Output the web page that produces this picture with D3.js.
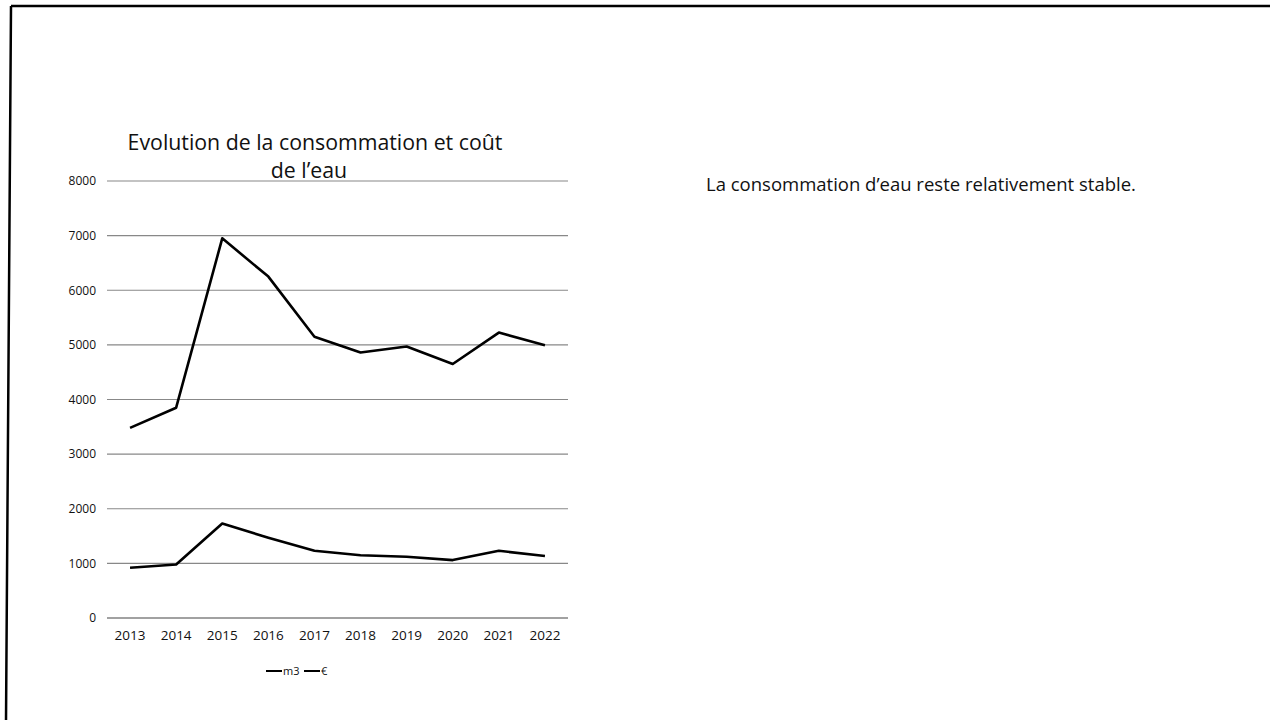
<!DOCTYPE html>
<html><head><meta charset="utf-8">
<script src="https://cdn.jsdelivr.net/npm/d3@7"></script>
<style>body{margin:0;background:#fff}svg{display:block}text{font-family:"Open Sans","Noto Sans",sans-serif;fill:#111}</style>
</head><body>
<svg id="c" width="1270" height="720"></svg>
<script>
const years = ["2013","2014","2015","2016","2017","2018","2019","2020","2021","2022"];
const m3 = [3480,3850,6950,6250,5150,4860,4970,4650,5225,4995];
const euro = [920,980,1730,1470,1230,1150,1120,1060,1230,1135];
const yTicks = [0,1000,2000,3000,4000,5000,6000,7000,8000];
const seriesNames = ["m3","€"];
const titleLines = ["Evolution de la consommation et coût","de l’eau"];
const note = "La consommation d’eau reste relativement stable.";

const svg = d3.select("#c");
svg.append("path").attr("d","M11,6 L1270,6 M11,6 L6,720").attr("stroke","#000").attr("stroke-width",2.5).attr("fill","none");

const x = d3.scaleBand().domain(years).range([107,568]);
const y = d3.scaleLinear().domain([0,8000]).range([618,181]);

const grid = svg.append("g");
grid.selectAll("line").data(yTicks).join("line")
  .attr("x1",107).attr("x2",568).attr("y1",d=>y(d)).attr("y2",d=>y(d))
  .attr("stroke",d=>d===0?"#444":"#888").attr("stroke-width",1.2);

const yAxis = svg.append("g").attr("transform","translate(100,0)")
  .call(d3.axisLeft(y).tickValues(yTicks).tickSize(0).tickPadding(4).tickFormat(d3.format("d")));
yAxis.select(".domain").remove();
yAxis.selectAll("text").attr("font-size",12).style("fill","#111");

const xAxis = svg.append("g").attr("transform","translate(0,618)")
  .call(d3.axisBottom(x).tickSize(0).tickPadding(12));
xAxis.select(".domain").remove();
xAxis.selectAll("text").attr("font-size",13.5).style("fill","#111");

const line = d3.line().x((d,i)=>x(years[i])+x.bandwidth()/2).y(d=>y(d));
[m3,euro].forEach(s=>{
  svg.append("path").datum(s).attr("d",line).attr("fill","none").attr("stroke","#000")
    .attr("stroke-width",2.6).attr("stroke-linejoin","round");
});

svg.append("text").attr("x",315).attr("y",150).attr("text-anchor","middle").attr("font-size",21.3).text(titleLines[0]);
svg.append("text").attr("x",309).attr("y",178).attr("text-anchor","middle").attr("font-size",21.3).text(titleLines[1]);

const lg = svg.append("g");
const legX = [266,304];
seriesNames.forEach((n,i)=>{
  lg.append("line").attr("x1",legX[i]).attr("x2",legX[i]+16).attr("y1",671).attr("y2",671).attr("stroke","#000").attr("stroke-width",2);
  lg.append("text").attr("x",legX[i]+17).attr("y",675).attr("font-size",11).text(n);
});

svg.append("text").attr("x",706).attr("y",191).attr("font-size",18.5).text(note);
</script>
</body></html>
